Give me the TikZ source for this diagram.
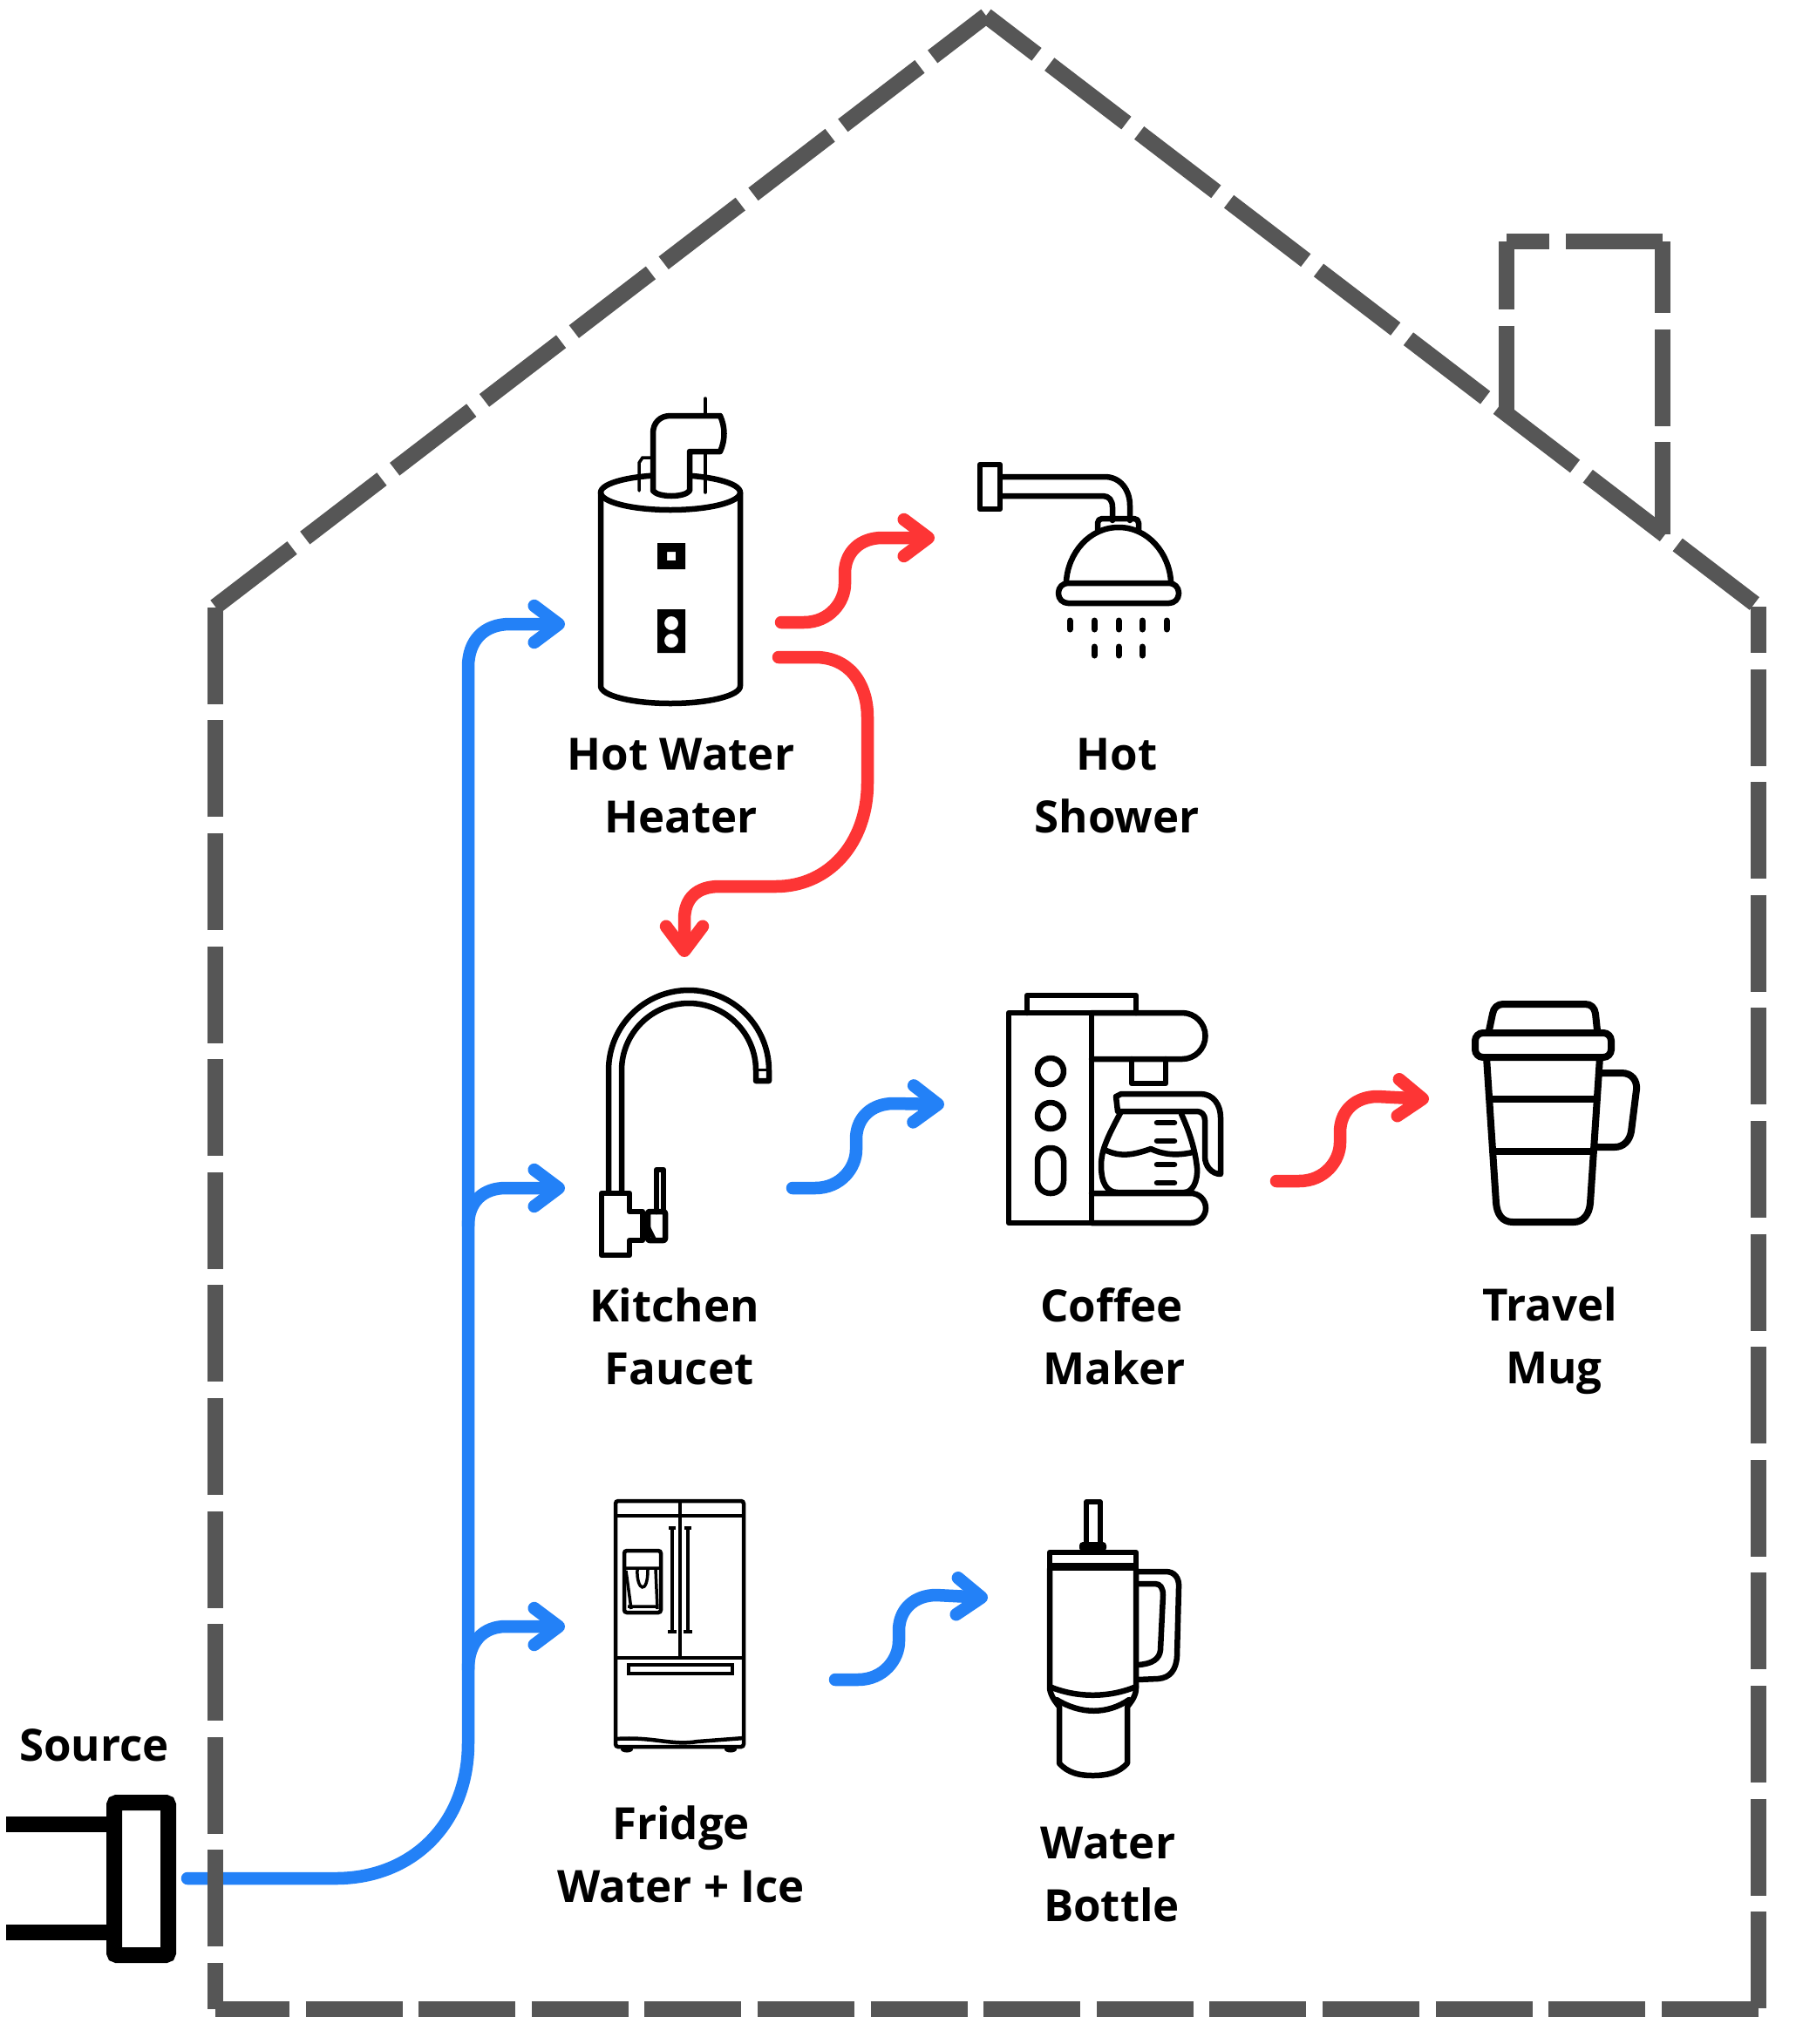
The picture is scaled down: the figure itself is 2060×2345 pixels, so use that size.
\documentclass[tikz,border=0pt]{standalone}
\usepackage{fontspec}
\setmainfont{Open Sans}
\usetikzlibrary{arrows.meta}
\definecolor{wall}{HTML}{565656}
\definecolor{cold}{HTML}{2381F7}
\definecolor{hot}{HTML}{FD3535}
\tikzset{
  wallline/.style={wall,line width=18.5pt,dash pattern=on 111pt off 18.6pt},
  coldflow/.style={cold,line width=14.5pt,line cap=round,line join=round,-{Straight Barb[length=28pt,width=42pt,round]}},
  hotflow/.style={coldflow,hot},
  icon/.style={line width=6.5pt,line join=round,line cap=round},
  thinicon/.style={line width=3.5pt,line cap=round},
  label/.style={font=\fontsize{51}{72}\selectfont\bfseries,align=center,text=black}
}
\begin{document}
\begin{tikzpicture}[x=1pt,y=-1pt]
\useasboundingbox (0,0) rectangle (2060,2345);
\fill[white] (0,0) rectangle (2060,2345);
% end points of the flows
\coordinate (source out) at (215,2155);
\coordinate (trunk low) at (537,1915);
\coordinate (trunk mid) at (537,1406);
\coordinate (heater in) at (648,716);
\coordinate (faucet in) at (648,1363);
\coordinate (fridge in) at (648,1866);
\coordinate (heater top) at (896,714);
\coordinate (heater low) at (893,754);
\coordinate (shower in) at (1072,617);
\coordinate (faucet out) at (909,1363);
\coordinate (coffee in) at (1083,1267);
\coordinate (coffee out) at (1464,1355);
\coordinate (mug in) at (1639,1261);
\coordinate (fridge out) at (958,1927);
\coordinate (bottle in) at (1133,1833);
\coordinate (faucet top) at (785,1098);
% flows
\draw[coldflow] (source out) -- ++(170,0) .. controls +(90,0) and +(0,90) .. ++(152,-155) -- (537,765) .. controls +(0,-30) and +(-30,0) .. (585,716) -- (heater in);
\draw[coldflow] (trunk mid) .. controls +(0,-28) and +(-25,0) .. ++(43,-43) -- (faucet in);
\draw[coldflow] (trunk low) .. controls +(0,-32) and +(-25,0) .. ++(43,-49) -- (fridge in);
\foreach \from/\to/\flow in {heater top/shower in/hotflow,faucet out/coffee in/coldflow,coffee out/mug in/hotflow,fridge out/bottle in/coldflow}{
  \draw[\flow] (\from) -- ++(26,0) .. controls +(30,0) and +(0,20) .. ++(47,-44) -- ++(0,-12) .. controls +(0,-25) and +(-25,0) .. ++(43,-41) -- (\to);
}
\draw[hotflow] (heater low) -- (935,754) .. controls +(38,0) and +(0,-40) .. (995,823) -- (995,898) .. controls +(0,70) and +(60,0) .. (890,1017) -- (825,1017) .. controls +(-25,0) and +(0,-25) .. (785,1055) -- (faucet top);
% house
\draw[wallline,dash phase=58pt] (247,2305) -- (247,696);
\draw[wallline] (247,696) -- (1131,18);
\draw[wallline,dash phase=38pt] (1131,18) -- (2017,696);
\draw[wallline,dash phase=58pt] (2017,696) -- (2017,2305);
\draw[wallline,dash phase=26pt] (247,2305) -- (2017,2305);
\draw[wallline,dash phase=33pt] (1728,277) -- (1728,476);
\draw[wallline,dash phase=62pt] (1728,277) -- (1907,277);
\draw[wallline,dash phase=29pt] (1907,277) -- (1907,613);
% source
\draw[line width=17.5pt] (7,2093) -- (125,2093) (7,2217) -- (125,2217);
\draw[line width=18pt,rounded corners=3pt] (131,2068) rectangle (193,2243);
\node[label] (source) at (108,2002) {Source};
% heater
\draw[icon,fill=white] (689,565) -- (689,787) arc[start angle=180,end angle=0,x radius=80,y radius=20] -- (849,565);
\draw[icon] (769,565) ellipse[x radius=80,y radius=20];
\draw[thinicon] (733,563) -- (733,531) -- (737,525) -- (749,525);
\draw[thinicon] (809,457) -- (809,477) (809,518) -- (809,565);
\draw[icon,fill=white] (749,563) -- (749,497) .. controls (749,485) and (757,477) .. (769,477) -- (826,477) .. controls (832,490) and (832,505) .. (826,518) -- (791,518) -- (791,563) .. controls (785,571) and (755,571) .. (749,563);
\fill[even odd rule] (754,623) rectangle (786,653) (765,633) rectangle (775,643);
\fill[even odd rule] (754,699) rectangle (786,749) (770,715) circle[radius=8] (770,735) circle[radius=8];
\node[label] (heater) at (781,902) {Hot Water\\Heater};
% shower
\draw[icon] (1124,533) rectangle (1147,584);
\draw[icon] (1150,547) -- (1267,547) .. controls (1285,547) and (1296,562) .. (1296,580) -- (1296,597);
\draw[icon] (1150,569) -- (1265,569) .. controls (1272,569) and (1276,574) .. (1276,582) -- (1276,597);
\draw[icon,rounded corners=5pt] (1259,608) -- (1259,595) -- (1306,595) -- (1306,608);
\draw[icon] (1223,667) .. controls (1225,635) and (1249,605) .. (1283,605) .. controls (1317,605) and (1341,635) .. (1343,667);
\draw[icon,rounded corners=11pt] (1214,669) rectangle (1352,692);
\foreach \x in {1227,1255,1283,1310,1338}{\draw[line width=7pt,line cap=round] (\x,712) -- (\x,722);}
\foreach \x in {1255,1283,1310}{\draw[line width=7pt,line cap=round] (\x,742) -- (\x,752);}
\node[label] (shower) at (1281,902) {Hot\\Shower};
% faucet
\draw[icon] (698,1367) -- (698,1228) arc[start angle=180,end angle=360,radius=92] -- (882,1240) -- (867,1240) -- (867,1228) arc[start angle=0,end angle=-180,radius=77] -- (713,1367);
\draw[line width=3pt] (867,1227) -- (882,1227);
\draw[icon] (690,1369) -- (722,1369) -- (722,1390) -- (737,1390) -- (737,1423) -- (722,1423) -- (722,1440) -- (690,1440) -- cycle;
\draw[icon,rounded corners=2pt] (743,1390) rectangle (763,1423);
\draw[icon] (753,1390) -- (753,1342) -- (761,1342) -- (761,1390);
\draw[line width=5pt] (740,1392) -- (740,1420) (741,1403) -- (751,1423);
\node[label] (faucet) at (779,1533.5) {Kitchen\hspace*{11pt}\\Faucet};
% coffee maker
\draw[icon] (1157,1162) rectangle (1252,1403);
\draw[icon] (1178,1162) -- (1178,1142) -- (1303,1142) -- (1303,1162);
\draw[icon] (1252,1162) -- (1356,1162) arc[start angle=-90,end angle=90,radius=26.5] -- (1252,1215);
\draw[icon] (1298,1215) -- (1298,1243) -- (1337,1243) -- (1337,1215);
\draw[icon] (1205,1229) circle[radius=15] (1205,1280) circle[radius=15];
\draw[icon,rounded corners=14.5pt] (1190,1317) rectangle (1220,1369);
\draw[icon] (1252,1369) -- (1366,1369) arc[start angle=-90,end angle=90,radius=17] -- (1252,1403);
\draw[icon] (1285,1277) .. controls (1270,1305) and (1263,1320) .. (1263,1337) .. controls (1263,1358) and (1270,1368) .. (1282,1368) -- (1358,1368) .. controls (1368,1368) and (1374,1355) .. (1373,1340) .. controls (1371,1320) and (1365,1300) .. (1355,1278);
\draw[icon] (1286,1255) -- (1377,1255) .. controls (1392,1255) and (1400,1268) .. (1400,1282) -- (1400,1347) .. controls (1390,1347) and (1382,1338) .. (1382,1327) -- (1382,1285) .. controls (1382,1279) and (1378,1275) .. (1373,1275) -- (1282,1275) -- (1280,1258) -- cycle;
\draw[icon] (1267,1319) .. controls (1285,1328) and (1300,1325) .. (1320,1318) .. controls (1335,1325) and (1350,1326) .. (1368,1322);
\foreach \y in {1288,1309,1336,1357}{\draw[icon] (1327,\y) -- (1347,\y);}
\node[label] (coffee) at (1278,1533.5) {Coffee\hspace*{6pt}\\Maker};
% mug
\draw[line width=8pt,line join=round] (1708,1182) -- (1712,1163) .. controls (1713,1156) and (1718,1152) .. (1724,1152) -- (1818,1152) .. controls (1825,1152) and (1829,1156) .. (1830,1163) -- (1832,1182);
\draw[line width=8pt,rounded corners=9pt] (1692,1185) rectangle (1848,1213);
\draw[line width=8pt] (1705,1213) -- (1716,1380) .. controls (1717,1393) and (1723,1402) .. (1735,1402) -- (1805,1402) .. controls (1816,1402) and (1823,1393) .. (1824,1380) -- (1835,1213);
\draw[line width=8pt] (1708,1261) -- (1832,1261) (1713,1321) -- (1827,1321);
\draw[line width=8pt] (1837,1231) -- (1860,1231) .. controls (1872,1231) and (1878,1240) .. (1877,1250) -- (1871,1298) .. controls (1869,1309) and (1862,1316) .. (1852,1316) -- (1830,1316);
\node[label] (mug) at (1782.5,1538) {Travel\hspace*{9pt}\\Mug};
% fridge
\draw[line width=4.5pt,rounded corners=3pt] (706,1722) rectangle (853,2004);
\draw[line width=4.5pt] (706,1739) -- (853,1739) (780,1722) -- (780,1902) (706,1902) -- (853,1902);
\draw[line width=4.5pt] (706,1995) .. controls (750,1992) and (770,2003) .. (800,1998) -- (853,1994);
\draw[line width=4pt] (771,1753) -- (771,1872) (767,1753) -- (775,1753) (766,1872) -- (776,1872);
\draw[line width=4pt] (789,1753) -- (789,1872) (785,1753) -- (793,1753) (784,1872) -- (794,1872);
\draw[line width=4.5pt,rounded corners=3pt] (716,1779) rectangle (758,1850);
\draw[line width=3.5pt] (716,1799) -- (758,1799) (720,1843) -- (755,1843) (718,1802) -- (724,1846) (752,1800) -- (754,1846);
\draw[line width=3.5pt] (731,1801) .. controls (730,1825) and (743,1830) .. (743,1801);
\draw[line width=4.5pt] (721,1910) rectangle (840,1920);
\fill (719,2007) ellipse[x radius=7,y radius=3.5] (838,2007) ellipse[x radius=7,y radius=3.5];
\node[label] (fridge) at (781,2127) {Fridge\\Water + Ice};
% bottle
\draw[icon,line width=5.5pt] (1246,1770) -- (1246,1723) -- (1262,1723) -- (1262,1770);
\fill[rounded corners=4pt] (1238,1769) rectangle (1269,1780);
\draw[icon] (1204,1800) -- (1204,1781) -- (1303,1781) -- (1303,1800);
\fill (1204,1793) rectangle (1303,1802);
\draw[icon] (1204,1800) -- (1204,1937) .. controls (1205,1945) and (1210,1952) .. (1215,1958) -- (1215,2023) .. controls (1225,2034) and (1238,2037) .. (1253,2037) .. controls (1270,2037) and (1283,2034) .. (1293,2023) -- (1293,1958) .. controls (1298,1952) and (1303,1945) .. (1303,1937) -- (1303,1800);
\draw[icon] (1204,1935) .. controls (1235,1948) and (1272,1948) .. (1303,1935);
\draw[icon] (1212,1950) .. controls (1240,1967) and (1270,1967) .. (1295,1950);
\draw[icon] (1305,1803) -- (1337,1803) .. controls (1347,1803) and (1353,1810) .. (1352,1822) -- (1350,1900) .. controls (1349,1916) and (1342,1925) .. (1328,1926) -- (1305,1927);
\draw[icon] (1305,1817) -- (1325,1817) .. controls (1331,1817) and (1334,1822) .. (1334,1830) -- (1331,1893) .. controls (1330,1903) and (1322,1909) .. (1305,1910);
\node[label] (bottle) at (1275,2151) {Water\hspace*{8pt}\\Bottle};
\end{tikzpicture}
\end{document}
